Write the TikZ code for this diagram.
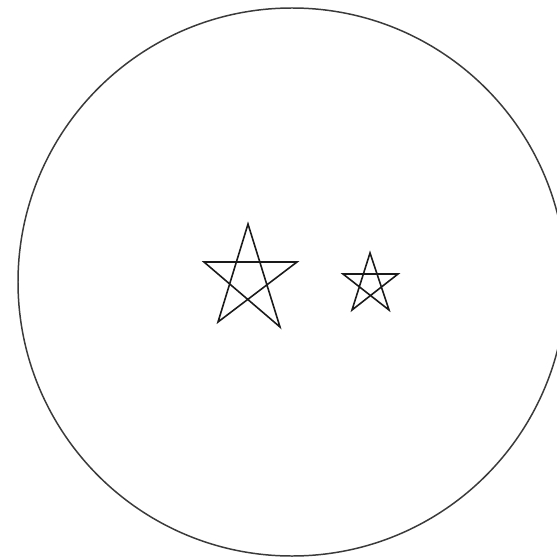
\documentclass[tikz,border=0pt]{standalone}
\usepackage{tikz}
\usepackage{xcolor}
\definecolor{SK}{HTML}{1A1A1A}
\definecolor{RM}{HTML}{3A3A3A}

\begin{document}
\begin{tikzpicture}[x=0.02cm, y=-0.02cm,
    rim/.style={draw=RM, line width=0.85pt},
    pentagram/.style={draw=SK, line width=0.9pt, line join=miter}]
    \clip (0,0) rectangle (557,557);
    \useasboundingbox (0,0) rectangle (557,557);
    % outer ring
    \draw[rim] (292,282) circle [radius=274];
    % big star
    \draw[pentagram] (248,224) -- (218,322) -- (297,262)
        -- (204,262) -- (280,327) -- cycle;
    % small star
    \draw[pentagram] (370,253) -- (352,310) -- (398,274)
        -- (343,274) -- (389,310) -- cycle;
  \end{tikzpicture}
\end{document}
